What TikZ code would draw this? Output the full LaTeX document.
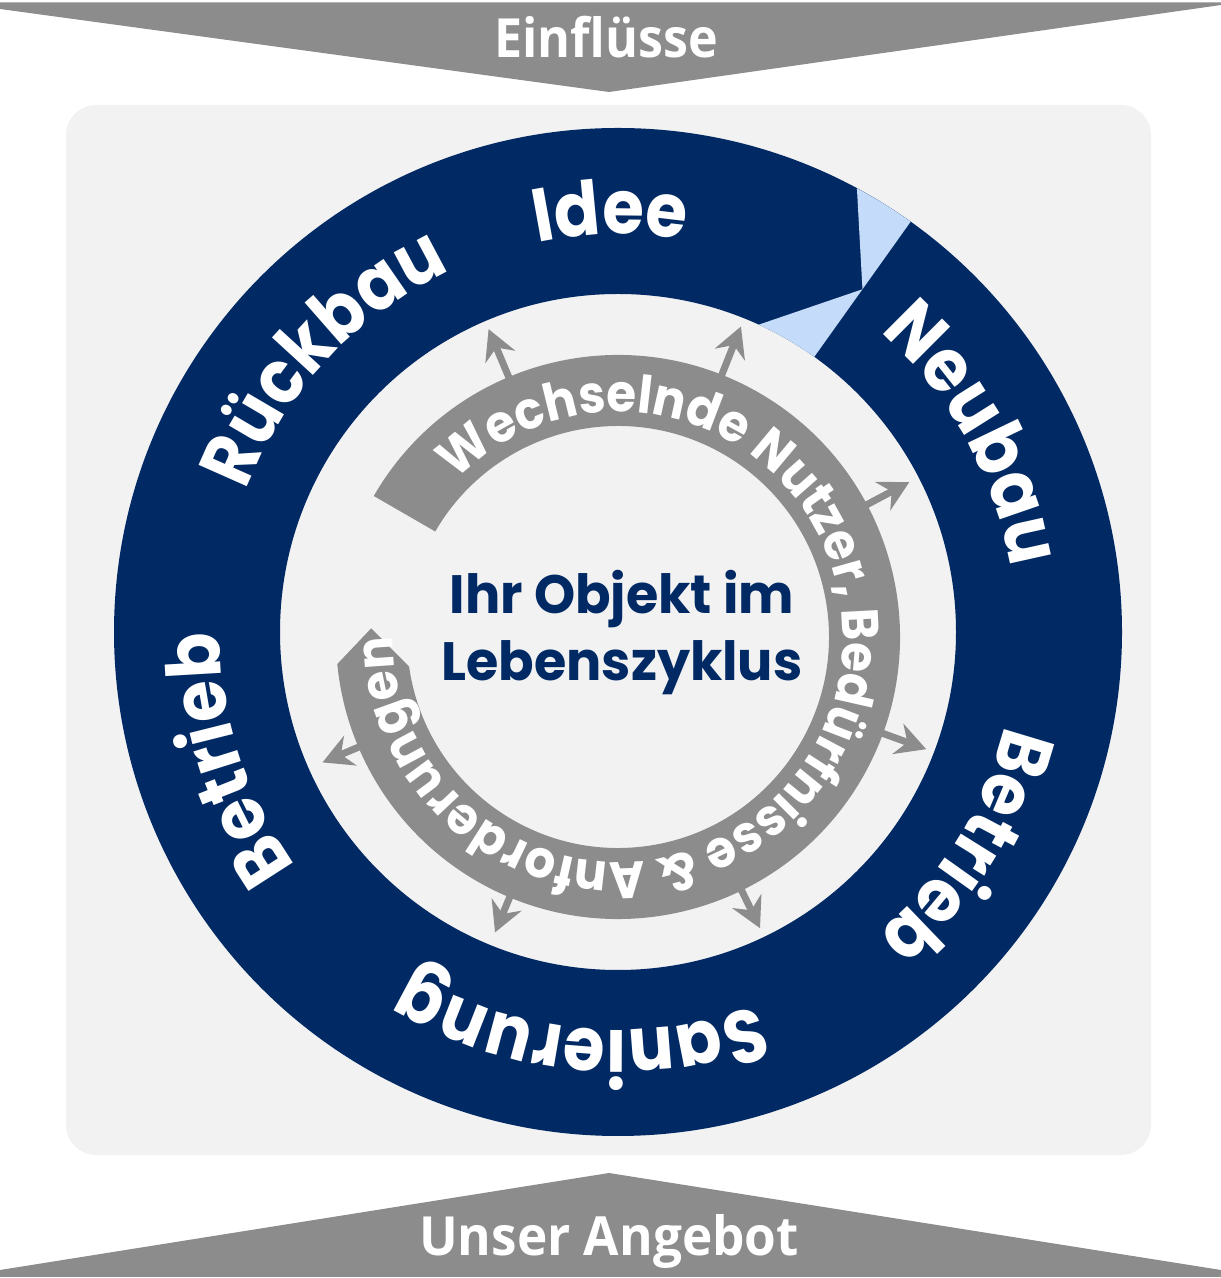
\documentclass[tikz,border=0pt]{standalone}
\usepackage{fontspec}
\setmainfont{Poppins}
\newfontfamily\bannerfont{Open Sans}
\newfontfamily\narrowfont{Poppins}[FakeStretch=0.9]
\newfontfamily\bandff{Poppins}[FakeStretch=0.93]
\newfontfamily\centerff{Poppins}[FakeStretch=0.97]
\usetikzlibrary{calc, arrows.meta, decorations.text}
\definecolor{navy}{RGB}{1,42,101}
\definecolor{bgrey}{RGB}{242,242,242}
\definecolor{gband}{RGB}{140,140,140}
\definecolor{lblue}{RGB}{197,219,250}
\newcommand{\ringfont}{\narrowfont\fontsize{75}{90}\selectfont\bfseries}
\newcommand{\bandfont}{\bandff\fontsize{52}{60}\selectfont\bfseries}

\begin{document}
\begin{tikzpicture}[
		x=1pt, y=1pt,
		garrow/.style={draw=gband, line width=7pt, -{Stealth[length=30pt, width=32pt, inset=10pt]}},
		ringlabel/.style={decorate, decoration={text along path, text align=center, text color=white, text={|\ringfont|#1}}},
		bandlabel/.style={decorate, decoration={text along path, text align=left, text color=white, text={|\bandfont|#1}}},
		bannertxt/.style={text=white, font=\bannerfont\bfseries\fontsize{54}{60}\selectfont, anchor=base, inner sep=0pt},
		centertxt/.style={text=navy, font=\centerff\bfseries\fontsize{54}{64}\selectfont, anchor=base, inner sep=0pt},
	]
	\useasboundingbox (0,0) rectangle (1221,1278);

	\coordinate (c) at (618,646);
	\coordinate (g) at (618,641);

	\fill[bgrey, rounded corners=30pt] (66,123) rectangle (1151,1173);

	\fill[gband] (0,1275.5) -- (1221,1275.5) -- (1221,1273) -- (609,1186) -- (0,1269) -- cycle;
	\fill[gband] (609,105) -- (1221,8) -- (1221,1) -- (0,1) -- (0,8) -- cycle;
	\node[bannertxt] (infl) at (606,1220) {\scalebox{0.93}[1]{Einflüsse}};
	\node[bannertxt] (offer) at (609,22) {\scalebox{0.95}[1]{Unser Angebot}};

	\fill[navy, even odd rule] (c) circle (504) (c) circle (338);
	\fill[lblue] ($(c)+(61.7:504)$) arc[start angle=61.7, end angle=54.5, radius=504] -- ($(c)+(54.5:338)$) arc[start angle=54.5, end angle=65.4, radius=338] -- ($(c)+(54.5:421)$) -- cycle;

	\path[ringlabel=Idee] ($(c)+(136:398)$) arc[start angle=136, end angle=46, radius=398];
	\path[ringlabel=Rückbau] ($(c)+(182:398)$) arc[start angle=182, end angle=92, radius=398];
	\path[ringlabel=Neubau] ($(c)+(74:398)$) arc[start angle=74, end angle=-16, radius=398];
	\path[ringlabel=Betrieb] ($(c)+(13.5:398)$) arc[start angle=13.5, end angle=-76.5, radius=398];
	\path[ringlabel=Sanierung] ($(c)+(-50.5:398)$) arc[start angle=-50.5, end angle=-140.5, radius=398];
	\path[ringlabel=Betrieb] ($(c)+(-117:398)$) arc[start angle=-117, end angle=-207, radius=398];

	\fill[gband] ($(g)+(150:282)$) arc[start angle=150, end angle=-174.5, radius=282] -- ($(g)+(-182:247)$) -- ($(g)+(-172:211)$) arc[start angle=-172, end angle=150, radius=211] -- cycle;

	\coordinate (a1s) at ($(g)+(112.8:275)$);
	\coordinate (a1e) at ($(g)+(112.8:334)$);
	\coordinate (a2s) at ($(g)+(68.4:275)$);
	\coordinate (a2e) at ($(g)+(68.4:334)$);
	\coordinate (a3s) at ($(g)+(28:275)$);
	\coordinate (a3e) at ($(g)+(28:330)$);
	\coordinate (a4s) at ($(g)+(-20:275)$);
	\coordinate (a4e) at ($(g)+(-20:328)$);
	\coordinate (a5s) at ($(g)+(-64:275)$);
	\coordinate (a5e) at ($(g)+(-64:324)$);
	\coordinate (a6s) at ($(g)+(-112.6:275)$);
	\coordinate (a6e) at ($(g)+(-112.6:320)$);
	\coordinate (a7s) at ($(g)+(-157:275)$);
	\coordinate (a7e) at ($(g)+(-157:321)$);

	\draw[garrow] (a1s) -- (a1e);
	\draw[garrow] (a2s) -- (a2e);
	\draw[garrow] (a3s) -- (a3e);
	\draw[garrow] (a4s) -- (a4e);
	\draw[garrow] (a5s) -- (a5e);
	\draw[garrow] (a6s) -- (a6e);
	\draw[garrow] (a7s) -- (a7e);

	\path[bandlabel={Wechselnde Nutzer, Bedürfnisse {\&} Anforderungen}] ($(g)+(136:225)$) arc[start angle=136, end angle=-215, radius=225];

	\node[centertxt] (lobj1) at (622,664) {Ihr Objekt im};
	\node[centertxt] (lobj2) at ([yshift=-67pt]lobj1.base) {Lebenszyklus};
\end{tikzpicture}
\end{document}
